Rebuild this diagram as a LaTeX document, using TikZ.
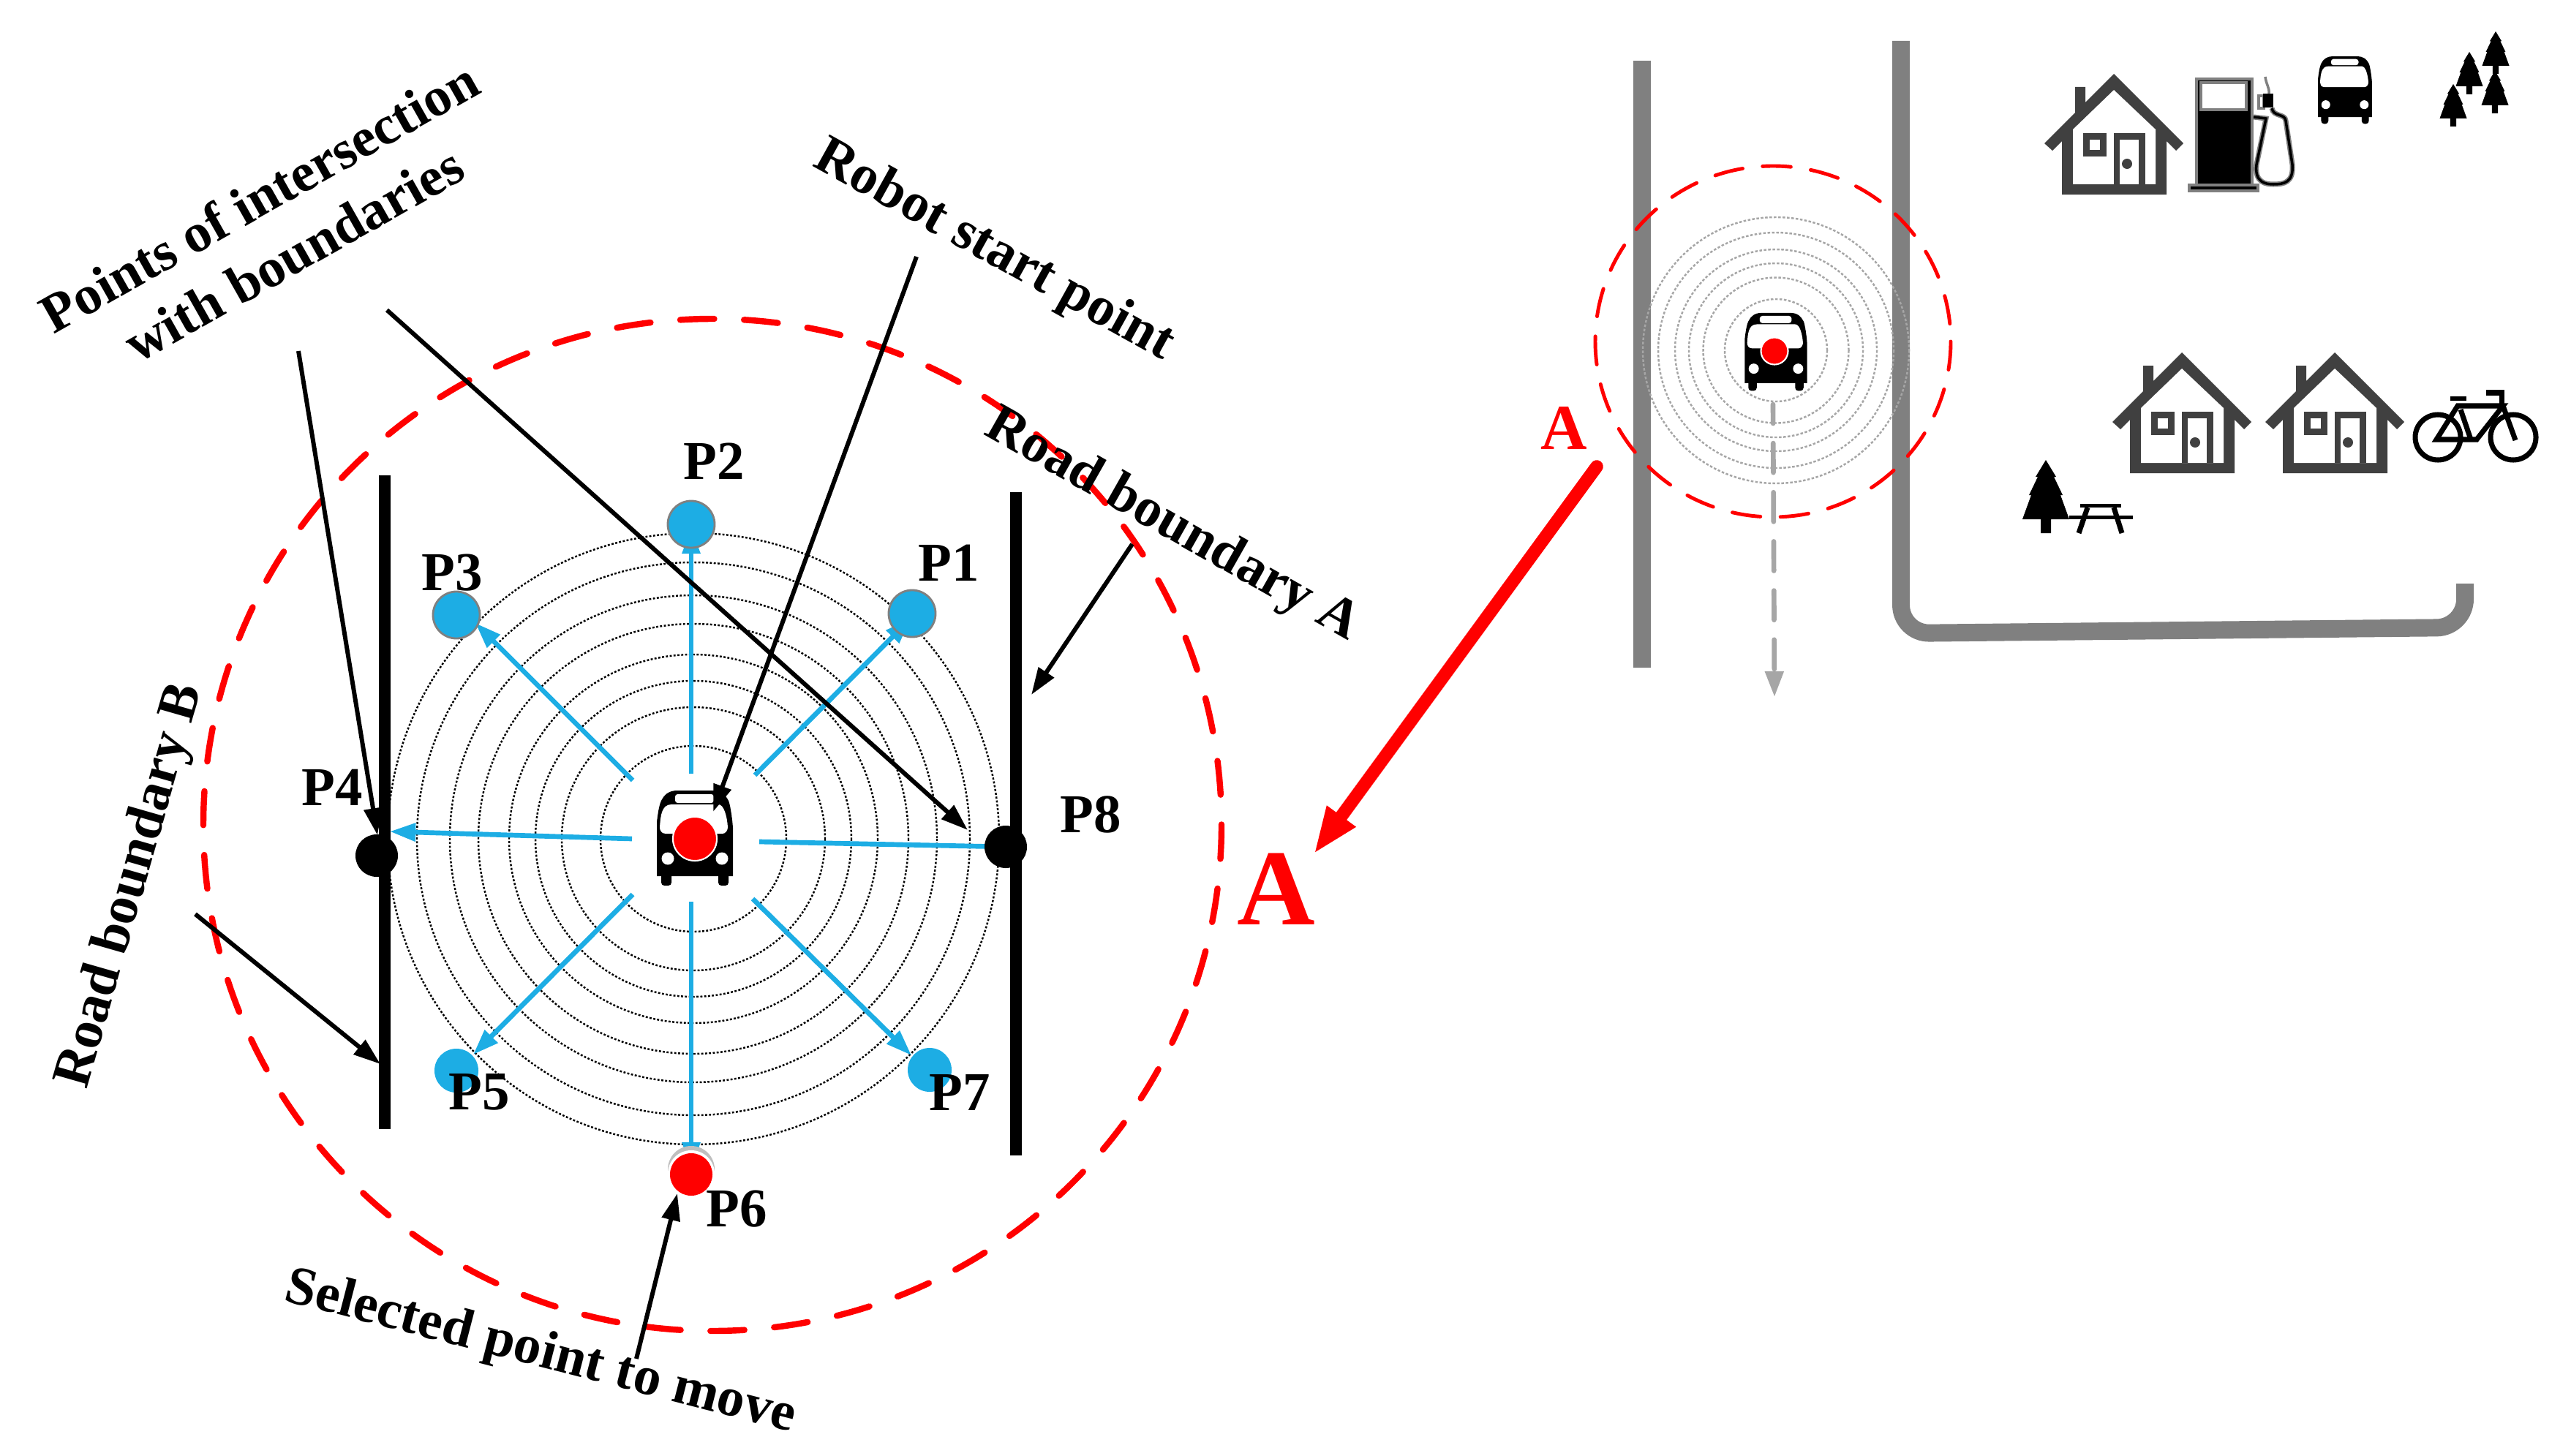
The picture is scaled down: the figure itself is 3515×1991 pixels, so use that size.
\documentclass[tikz,border=0pt]{standalone}
\usepackage{fontspec}
\setmainfont{Liberation Serif}
\usetikzlibrary{arrows.meta,positioning}
\definecolor{rayblue}{RGB}{29,173,228}
\definecolor{roadgray}{RGB}{128,128,128}
\definecolor{pathgray}{RGB}{166,166,166}
\definecolor{housegray}{RGB}{64,64,64}
\tikzset{
  boldlabel/.style={
    font=\fontsize{21.3pt}{25pt}\selectfont\bfseries,
    inner sep=0pt,
    anchor=base west
  },
  redletter/.style={
    font=\bfseries,
    text=red,
    inner sep=0pt,
    anchor=base
  },
  pointdot/.style={
    circle,
    minimum size=0.64cm,
    inner sep=0pt
  },
  blueray/.style={
    line width=1.9pt,
    rayblue,
    -{Triangle[length=10pt,width=6.8pt]}
  },
  callout/.style={
    line width=1.7pt,
    black,
    -{Triangle[length=10.5pt,width=7pt]}
  },
  bigring/.style={
    line width=0.7pt,
    black,
    dash pattern=on 0.8pt off 0.7pt
  },
  smallring/.style={
    line width=0.7pt,
    pathgray,
    dash pattern=on 1pt off 0.7pt
  },
  blackroad/.style={
    line width=4.3pt,
    black
  },
  grayroad/.style={
    line width=6.8pt,
    roadgray
  },
  bikeline/.style={
    line width=2pt,
    black
  }
}
\newcommand{\busicon}[2]{%
  \begin{scope}[shift={#1},scale=#2]
    \fill[black] (-52,-23) .. controls (-50,-40) and (-48,-48) .. (-46,-52)
      .. controls (-42,-60) and (-36,-66) .. (-24,-66) -- (24,-66)
      .. controls (36,-66) and (42,-60) .. (46,-52)
      .. controls (48,-48) and (51,-30) .. (52,-15) -- (52,51) -- (-52,51) -- cycle;
    \fill[black, rounded corners=1.2pt] (-46,45) rectangle (-32,64);
    \fill[black, rounded corners=1.2pt] (32,45) rectangle (46,64);
    \fill[white, rounded corners=1pt] (-27,-61) rectangle (26,-49);
    \fill[white] (-40,-7) .. controls (-46,-7) and (-48,-12) .. (-48,-16)
      .. controls (-47,-30) and (-46,-47) .. (-32,-47) -- (32,-47)
      .. controls (40,-47) and (44,-30) .. (45,-16)
      .. controls (45,-12) and (42,-7) .. (38,-7) -- cycle;
    \fill[white] (-37,27) circle (8.5);
    \fill[white] (37,27) circle (8.5);
  \end{scope}%
}
\newcommand{\houseicon}[1]{%
  \begin{scope}[shift={#1}]
    \fill[housegray] (0,0) -- (95,95) -- (85,105) -- (72,92) -- (72,165) -- (-71,165)
      -- (-71,92) -- (-84,105) -- (-95,95) -- (-53,53) -- (-53,18) -- (-39,18) -- (-39,39) -- cycle;
    \fill[white] (0,22) -- (57,76) -- (57,151) -- (-56,151) -- (-56,76) -- cycle;
    \fill[housegray] (-42,81) rectangle (-10,113);
    \fill[white] (-33,90) rectangle (-19,104);
    \fill[housegray] (0,81) rectangle (43,151);
    \fill[white] (8,90) rectangle (34,151);
    \fill[housegray] (18,123) circle (7);
  \end{scope}%
}
\newcommand{\treeicon}[2]{%
  \begin{scope}[shift={#1},scale=#2]
    \fill[black] (0,0) -- (14,23) -- (11,23) -- (23,48) -- (20,48) -- (32,81) -- (7,81) -- (7,100)
      -- (-7,100) -- (-7,81) -- (-32,81) -- (-20,48) -- (-23,48) -- (-11,23) -- (-14,23) -- cycle;
  \end{scope}%
}

\begin{document}
\begin{tikzpicture}[x=0.01cm,y=-0.01cm]
  \useasboundingbox (0,0) rectangle (3515,1991);

  % Left panel: rings and road
  \coordinate (ringcenter) at (948,1147);
  \draw[bigring] (ringcenter) circle (127) circle (180) circle (216) circle (252)
    circle (294) circle (333) circle (378) circle (418);
  \draw[red, line width=2.4pt, line cap=round, dash pattern=on 13.2pt off 11.6pt]
    (974,1128) ellipse (696 and 692);
  \coordinate (roadB-top) at (526,650);
  \coordinate (roadB-end) at (526,1544);
  \coordinate (roadA-top) at (1389,673);
  \coordinate (roadA-end) at (1389,1580);
  \draw[blackroad] (roadB-top) -- (roadB-end);
  \draw[blackroad] (roadA-top) -- (roadA-end);

  % Robot
  \busicon{(950,1147)}{1}
  \node[circle, fill=red, draw=white, line width=0.6pt, minimum size=0.6cm, inner sep=0pt] (robot) at (950,1147) {};

  % Rays from the robot
  \coordinate (ray1) at (1032,1060);
  \coordinate (ray2) at (945,1058);
  \coordinate (ray3) at (865,1067);
  \coordinate (ray4) at (864,1147);
  \coordinate (ray5) at (865,1223);
  \coordinate (ray6) at (945,1233);
  \coordinate (ray7) at (1029,1229);
  \coordinate (ray8) at (1038,1151);
  \coordinate (P1-tip) at (1245,846);
  \coordinate (P2-tip) at (945,722);
  \coordinate (P3-tip) at (650,852);
  \coordinate (P4-tip) at (533,1137);
  \coordinate (P5-tip) at (647,1442);
  \coordinate (P6-tip) at (945,1597);
  \coordinate (P7-tip) at (1246,1443);
  \coordinate (P8-tip) at (1375,1158);
  \draw[blueray] (ray1) -- (P1-tip);
  \draw[blueray] (ray2) -- (P2-tip);
  \draw[blueray] (ray3) -- (P3-tip);
  \draw[blueray] (ray4) -- (P4-tip);
  \draw[blueray] (ray5) -- (P5-tip);
  \draw[blueray] (ray6) -- (P6-tip);
  \draw[blueray] (ray7) -- (P7-tip);
  \draw[blueray, -] (ray8) -- (P8-tip);

  % Candidate points
  \node[pointdot, fill=rayblue, draw=roadgray, line width=0.8pt] (P1-dot) at (1247,839) {};
  \node[pointdot, fill=rayblue, draw=roadgray, line width=0.8pt] (P2-dot) at (945,717) {};
  \node[pointdot, fill=rayblue, draw=roadgray, line width=0.8pt] (P3-dot) at (624,841) {};
  \node[pointdot, fill=black, minimum size=0.58cm] (P4-dot) at (515,1170) {};
  \node[pointdot, fill=rayblue, minimum size=0.6cm] (P5-dot) at (624,1464) {};
  \node[pointdot, fill=roadgray!50, minimum size=0.64cm] (P6-halo) at (945,1599) {};
  \node[pointdot, fill=white, minimum size=0.64cm] (P6-gap) at (945,1605) {};
  \node[pointdot, fill=red, minimum size=0.58cm] (P6-dot) at (945,1606) {};
  \node[pointdot, fill=rayblue, minimum size=0.6cm] (P7-dot) at (1271,1463) {};
  \node[pointdot, fill=black, minimum size=0.58cm] (P8-dot) at (1375,1158) {};

  % Labels
  \node[boldlabel] (P1-label) at (1255,794) {P1};
  \node[boldlabel] (P2-label) at (934,655) {P2};
  \node[boldlabel] (P3-label) at (576,807) {P3};
  \node[boldlabel] (P4-label) at (412,1101) {P4};
  \node[boldlabel] (P5-label) at (613,1517) {P5};
  \node[boldlabel] (P6-label) at (965,1677) {P6};
  \node[boldlabel] (P7-label) at (1270,1518) {P7};
  \node[boldlabel] (P8-label) at (1449,1138) {P8};
  \node[boldlabel, rotate=29.5] (points-one) at (73,458) {Points of intersection};
  \node[boldlabel, rotate=29.5] (points-two) at (188,498) {with boundaries};
  \node[boldlabel, rotate=-29] (start-label) at (1109,226) {Robot start point};
  \node[boldlabel, rotate=-29.5] (roadA-label) at (1343,593) {Road boundary A};
  \node[boldlabel, rotate=74] (roadB-label) at (118,1491) {Road boundary B};
  \node[boldlabel, rotate=-14.5] (move-label) at (386,1778) {Selected point to move};

  % Callouts
  \coordinate (points-tailA) at (408,480);
  \coordinate (points-tipA) at (516,1142);
  \coordinate (points-tailB) at (529,424);
  \coordinate (points-tipB) at (1323,1135);
  \coordinate (start-tail) at (1253,351);
  \coordinate (start-tip) at (975,1110);
  \coordinate (roadA-tail) at (1548,744);
  \coordinate (roadA-tip) at (1410,950);
  \coordinate (roadB-tail) at (267,1250);
  \coordinate (roadB-tip) at (520,1455);
  \coordinate (move-tail) at (870,1858);
  \coordinate (move-tip) at (926,1632);
  \draw[callout] (points-tailA) -- (points-tipA);
  \draw[callout] (points-tailB) -- (points-tipB);
  \draw[callout] (start-tail) -- (start-tip);
  \draw[callout] (roadA-tail) -- (roadA-tip);
  \draw[callout] (roadB-tail) -- (roadB-tip);
  \draw[callout] (move-tail) -- (move-tip);

  % Right panel: map
  \coordinate (mapcenter) at (2428,479);
  \coordinate (mapA-top) at (2245,83);
  \coordinate (mapA-end) at (2245,913);
  \draw[grayroad] (mapA-top) -- (mapA-end);
  \draw[grayroad, rounded corners=11pt] (2599,56) -- (2599,866) -- (3370,858) -- (3370,798);
  \draw[smallring] (mapcenter) circle (70) circle (99.5) circle (119) circle (138) circle (161) circle (182);
  \draw[red, line width=1.4pt, line cap=round, dash pattern=on 11pt off 7.8pt]
    (2424,467) ellipse (243 and 240);
  \coordinate (heading-start) at (2424,553);
  \coordinate (heading-tip) at (2426,953);
  \draw[pathgray, line width=1.9pt, line cap=round, dash pattern=on 11.4pt off 7.7pt, dash phase=4pt,
    -{Triangle[length=10pt,width=7pt]}] (heading-start) -- (heading-tip);
  \busicon{(2428,482)}{0.82}
  \node[circle, fill=red, draw=white, line width=0.6pt, minimum size=0.37cm, inner sep=0pt] (maprobot) at (2426,480) {};

  % Magnified view
  \node[redletter, font=\fontsize{25pt}{28pt}\selectfont\bfseries] (A-small) at (2138,614) {A};
  \node[redletter, font=\fontsize{42pt}{46pt}\selectfont\bfseries] (A-large) at (1745,1264) {A};
  \coordinate (zoom-tail) at (2183,638);
  \coordinate (zoom-tip) at (1796,1168);
  \draw[red, line width=5pt, line cap=round, -{Triangle[length=18.3pt,width=12.6pt]}] (zoom-tail) -- (zoom-tip);

  % Surroundings
  \houseicon{(2890,101)}
  \houseicon{(2983,482)}
  \houseicon{(3192,482)}
  \busicon{(3206,124)}{0.71}
  \treeicon{(3354,115)}{0.58}
  \treeicon{(3376,71)}{0.58}
  \treeicon{(3412,43)}{0.58}
  \treeicon{(3411,97)}{0.58}
  \treeicon{(2797,629)}{1}

  % Fuel pump
  \draw[roadgray, fill=black, line width=1.2pt] (3003,108) rectangle (3079,253);
  \draw[roadgray, fill=white, line width=1.2pt] (3009,113) rectangle (3071,150);
  \draw[roadgray, fill=black, line width=1.2pt] (2993,253) rectangle (3087,261);
  \draw[roadgray, line width=2pt] (3081,160) -- (3098,162) -- (3085,225)
    .. controls (3082,250) and (3098,252) .. (3108,252) .. controls (3122,252) and (3136,250) .. (3134,225)
    -- (3125,165) .. controls (3124,155) and (3108,160) .. (3106,148);
  \draw[black, line width=1pt] (3081,160) -- (3098,162) -- (3085,225)
    .. controls (3082,250) and (3098,252) .. (3108,252) .. controls (3122,252) and (3136,250) .. (3134,225)
    -- (3125,165) .. controls (3124,155) and (3108,160) .. (3106,148);
  \draw[roadgray, line width=1pt] (3095,131) rectangle (3088,148);
  \fill[black] (3094,128) rectangle (3108,147);
  \draw[roadgray, line width=1pt] (3097,105) .. controls (3098,115) and (3103,120) .. (3102,128);

  % Picnic table
  \fill[black] (2844,689) rectangle (2900,694);
  \fill[black] (2829,705) rectangle (2916,710);
  \draw[line width=2pt, black] (2854,694) -- (2842,729);
  \draw[line width=2pt, black] (2890,694) -- (2901,729);

  % Bicycle
  \draw[bikeline] (3333,598) circle (31);
  \draw[bikeline] (3436,598) circle (31);
  \draw[bikeline] (3331,601) -- (3386,601) -- (3422,555) -- (3360,555) -- cycle;
  \draw[bikeline] (3364,560) -- (3378,601);
  \draw[bikeline] (3422,555) -- (3439,602);
  \draw[bikeline] (3420,552) -- (3420,537) -- (3399,537);
  \fill[black] (3350,542) rectangle (3372,548);
\end{tikzpicture}
\end{document}
